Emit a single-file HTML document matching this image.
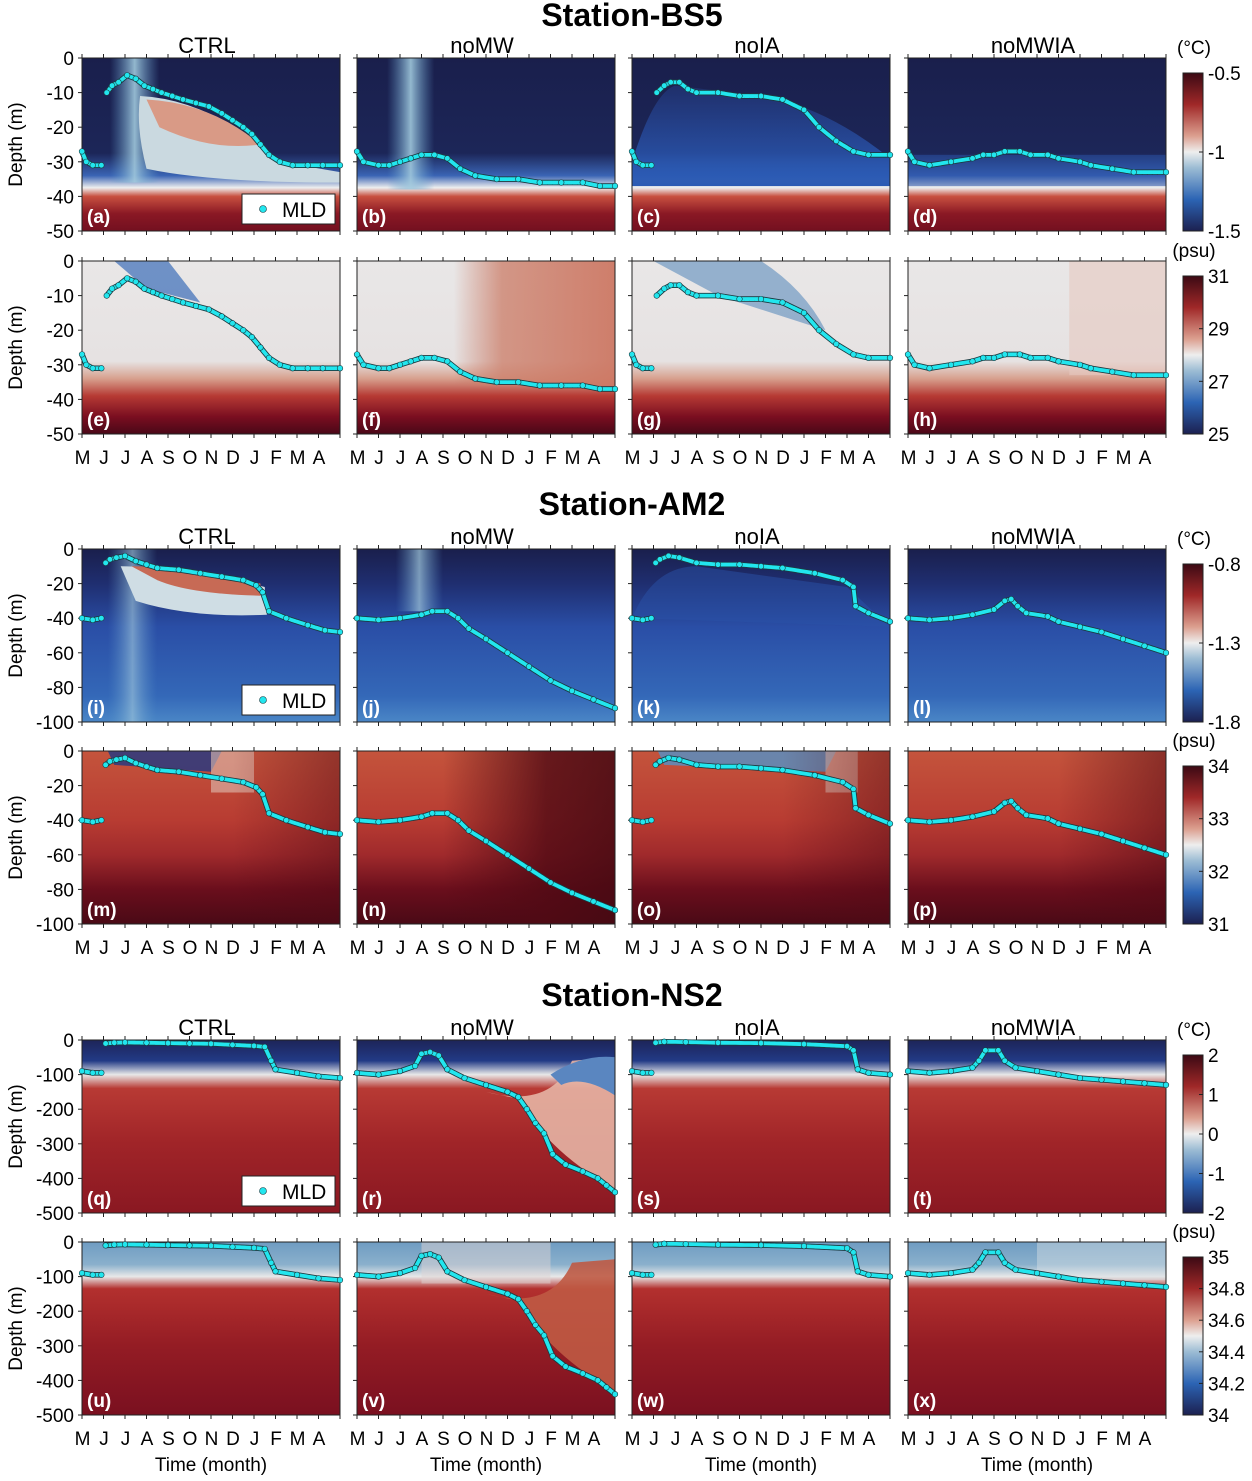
<!DOCTYPE html>
<html><head><meta charset="utf-8"><style>
body{margin:0;background:#fff}
svg text{font-family:"Liberation Sans",sans-serif}
</style></head><body>
<svg id="fig" xmlns="http://www.w3.org/2000/svg" width="1252" height="1476" viewBox="0 0 1252 1476">
<defs id="defs"></defs>
</svg>
<script>
// ---- data ----
const months = ["M","J","J","A","S","O","N","D","J","F","M","A"];
const experiments = ["CTRL","noMW","noIA","noMWIA"];
const stations = ["Station-BS5","Station-AM2","Station-NS2"];
const depthMax = [50,100,500];
const depthTicks = [[0,10,20,30,40,50],[0,20,40,60,80,100],[0,100,200,300,400,500]];
const panelLetters = "abcdefghijklmnopqrstuvwx".split("");
const tempCbTicks = [["-0.5","-1","-1.5"],["-0.8","-1.3","-1.8"],["2","1","0","-1","-2"]];
const salCbTicks = [["31","29","27","25"],["34","33","32","31"],["35","34.8","34.6","34.4","34.2","34"]];
// MLD: time (months since May 1) and depth (m); null breaks
const mldT_BS5 = [
 [0,0.2,0.5,0.9,null,1.15,1.4,1.7,2.1,2.5,2.9,3.3,3.7,4.2,4.7,5.3,5.9,6.5,7.0,7.5,7.9,8.3,8.7,9.2,9.8,10.5,11.2,12],
 [0,0.3,1,1.5,2,2.5,3,3.6,4.2,4.8,5.5,6.5,7.5,8.5,9.5,10.5,11.3,12],
 [0,0.2,0.5,0.9,null,1.15,1.5,1.8,2.2,2.6,3,4,5,6,7,8,8.7,9.5,10.3,11,12],
 [0,0.3,1,2,3,3.5,4,4.5,5.2,5.7,6.5,7,8,8.5,9.5,10.5,12]];
const mldD_BS5 = [
 [27,30,31,31,null,10,8,7,5,6,8,9,10,11,12,13,14,16,18,20,22,25,28,30,31,31,31,31],
 [27,30,31,31,30,29,28,28,29,32,34,35,35,36,36,36,37,37],
 [27,30,31,31,null,10,8,7,7,9,10,10,11,11,12,15,20,24,27,28,28],
 [27,30,31,30,29,28,28,27,27,28,28,29,30,31,32,33,33]];
const mldT_AM2 = [
 [0,0.5,0.9,null,1.1,1.3,1.6,2,2.5,3,3.5,4.5,5.5,6.5,7.5,8.1,8.4,8.7,9.5,10.5,11.3,12],
 [0,1,2,3,3.5,4.2,4.7,5.2,6,7,8,9,10,11,12],
 [0,0.5,0.9,null,1.1,1.3,1.7,2.2,3,4,5,6,7,8.5,9.8,10.3,10.4,11,12],
 [0,1,2,3,4,4.5,4.8,5.1,5.5,6.5,7,8,9,10,11,12]];
const mldD_AM2 = [
 [40,41,40,null,8,6,5,4,7,9,11,12,14,16,18,21,25,36,40,44,47,48],
 [40,41,40,38,36,36,40,46,52,60,68,76,82,87,92],
 [40,41,40,null,8,6,4,5,8,9,9,10,11,14,18,22,33,37,42],
 [40,41,40,38,35,30,29,33,37,39,42,45,48,52,56,60]];
const mldT_NS2 = [
 [0,0.5,0.9,null,1.1,1.5,2,3,4,5,6,7,8,8.5,8.8,9,10,11,12],
 [0,1,2,2.7,3,3.4,3.8,4.2,5,6,7,7.5,7.9,8.3,8.7,9.1,9.7,10.5,11.2,11.6,12],
 [0,0.5,0.9,null,1.1,1.5,2.5,4,6,8,10,10.3,10.5,11,12],
 [0,1,2,3,3.3,3.6,4.2,4.5,5,6,7,8,9,10,11,12]];
const mldD_NS2 = [
 [90,95,95,null,10,8,7,8,9,10,11,14,17,20,60,85,95,105,110],
 [95,100,90,75,40,35,45,85,110,130,150,165,200,240,270,330,360,380,400,420,440],
 [90,95,95,null,8,5,6,8,9,12,18,30,85,95,100],
 [90,95,90,80,60,30,30,60,80,90,100,110,115,120,125,130]];
const mldT = [mldT_BS5, mldT_AM2, mldT_NS2];
const mldD = [mldD_BS5, mldD_AM2, mldD_NS2];

// ---- layout ----
const NS = "http://www.w3.org/2000/svg";
const svg = document.getElementById("fig");
const defs = document.getElementById("defs");
const colX = [82,357,632,908], PW = 258, PH = 173;
const rowY = [58,261,549,751,1040,1242];
function el(tag, attrs, parent){const e=document.createElementNS(NS,tag);for(const k in attrs)e.setAttribute(k,attrs[k]);(parent||svg).appendChild(e);return e;}
function txt(x,y,s,size,anchor,weight,parent){const t=el("text",{x:x,y:y,"font-size":size,"text-anchor":anchor||"middle","font-weight":weight||"normal",fill:"#000"},parent);t.textContent=s;return t;}
function grad(id,stops,horiz){const g=el("linearGradient",{id:id,x1:0,y1:0,x2:horiz?1:0,y2:horiz?0:1},defs);stops.forEach(s=>el("stop",{offset:s[0],"stop-color":s[1]},g));}

grad("gT0",[[0,"#1a1f4c"],[0.55,"#1c2658"],[0.68,"#3a64b4"],[0.75,"#eeeeee"],[0.8,"#c85040"],[0.9,"#8a1824"],[1,"#731020"]]);
grad("gS0",[[0,"#e9e7e7"],[0.58,"#e6e2e2"],[0.68,"#d7a08e"],[0.78,"#b63a34"],[0.9,"#7a0e20"],[1,"#4a0818"]]);
grad("gT1",[[0,"#1a1f4c"],[0.2,"#1f2e70"],[0.45,"#2a4ea6"],[0.85,"#3468b8"],[1,"#4a86c6"]]);
grad("gS1",[[0,"#c4543c"],[0.4,"#b83c32"],[0.6,"#a02a2c"],[0.8,"#6a0e1c"],[1,"#4a0a16"]]);
grad("gT2",[[0,"#1d2458"],[0.12,"#223a86"],[0.2,"#e8e8e8"],[0.28,"#b83a34"],[0.6,"#a02428"],[1,"#8a1822"]]);
grad("gS2",[[0,"#6f9cc2"],[0.13,"#8ab0cc"],[0.2,"#e8e8e8"],[0.27,"#b3302e"],[0.6,"#941c24"],[1,"#7a1020"]]);
grad("gCb",[[0,"#3c0a14"],[0.2,"#a02828"],[0.4,"#dca090"],[0.5,"#eeeeee"],[0.6,"#9cbcd4"],[0.8,"#2c64b4"],[1,"#1c2050"]]);
grad("gBlueV",[[0,"rgba(90,150,200,0)"],[0.5,"rgba(160,200,220,0.9)"],[1,"rgba(90,150,200,0)"]],true);
grad("gRedR",[[0,"rgba(200,120,100,0)"],[0.3,"rgba(205,130,110,0.8)"],[1,"rgba(205,120,100,0.95)"]],true);
grad("gDarkR",[[0,"rgba(80,10,20,0)"],[0.4,"rgba(80,10,20,0.8)"],[1,"rgba(60,8,16,0.95)"]],true);
grad("gBlueDown",[[0,"rgba(42,80,170,0.3)"],[1,"rgba(42,90,180,1)"]]);

// titles
[[14,0],[503,1],[994,2]].forEach(([y,i])=>{const t=txt(632,y+12,stations[i],32,"middle","bold");});

let pIdx=0;
for(let st=0;st<3;st++){
 for(let v=0;v<2;v++){
  const r=st*2+v, y0=rowY[r], dm=depthMax[st];
  for(let c=0;c<4;c++){
   const x0=colX[c];
   const g=el("g",{});
   
   
   const xs=t=>x0+t/12*PW, ys=d=>y0+d/dm*PH;
   el("rect",{x:x0,y:y0,width:PW,height:PH,fill:"url(#g"+(v?"S":"T")+st+")"},g);
   const clip="cp"+pIdx; const cp=el("clipPath",{id:clip},defs); el("rect",{x:x0,y:y0,width:PW,height:PH},cp);
   const ov=el("g",{"clip-path":"url(#"+clip+")"},g);
   if(st===0&&v===0){
     if(c===0){el("rect",{x:xs(1.3),y:y0,width:xs(3.6)-xs(1.3),height:ys(36)-y0,fill:"url(#gBlueV)"},ov);
       el("path",{d:`M${xs(2.7)},${ys(11)} Q${xs(6)},${ys(12)} ${xs(9.2)},${ys(30)} L${xs(12)},${ys(33)} L${xs(12)},${ys(36)} Q${xs(6)},${ys(36)} ${xs(3)},${ys(32)} Q${xs(2.5)},${ys(20)} ${xs(2.7)},${ys(11)}Z`,fill:"#cad9e0"},ov);
       el("path",{d:`M${xs(3)},${ys(12)} Q${xs(6)},${ys(13)} ${xs(8.3)},${ys(25)} Q${xs(6)},${ys(27)} ${xs(3.6)},${ys(20)}Z`,fill:"#d99a86"},ov);}
     if(c===1){el("rect",{x:xs(1.4),y:y0,width:xs(3.6)-xs(1.4),height:ys(38)-y0,fill:"url(#gBlueV)"},ov);}
     if(c===2){el("path",{d:`M${x0},${ys(30)} Q${xs(1)},${ys(10)} ${xs(2)},${ys(8)} L${xs(6)},${ys(11)} Q${xs(9)},${ys(14)} ${xs(12)},${ys(29)} L${xs(12)},${ys(37)} L${x0},${ys(37)}Z`,fill:"url(#gBlueDown)"},ov);}
     if(c===3){el("rect",{x:x0,y:ys(28),width:PW,height:ys(37)-ys(28),fill:"#2a52a8",opacity:0.5},ov);}
   }
   if(st===0&&v===1){
     if(c===0) el("path",{d:`M${xs(1.5)},${y0} L${xs(4)},${y0} Q${xs(5)},${ys(8)} ${xs(5.5)},${ys(12)} L${xs(3)},${ys(8)} Z`,fill:"#3a6cb8",opacity:0.7},ov);
     if(c===1) el("rect",{x:xs(4.5),y:y0,width:PW-xs(4.5)+x0,height:ys(36)-y0,fill:"url(#gRedR)"},ov);
     if(c===2) el("path",{d:`M${xs(1)},${y0} L${xs(6)},${y0} Q${xs(8)},${ys(8)} ${xs(9)},${ys(20)} L${xs(4)},${ys(10)} Z`,fill:"#5c8cbc",opacity:0.6},ov);
     if(c===3) el("rect",{x:xs(7.5),y:y0,width:PW-xs(7.5)+x0,height:ys(33)-y0,fill:"#e6c8c0",opacity:0.6},ov);
   }
   if(st===1&&v===0){
     if(c===0){el("rect",{x:xs(1.2),y:y0,width:xs(3.5)-xs(1.2),height:PH,fill:"url(#gBlueV)",opacity:0.7},ov);
       el("path",{d:`M${xs(1.8)},${ys(10)} Q${xs(5)},${ys(10)} ${xs(8.5)},${ys(22)} L${xs(8.6)},${ys(38)} Q${xs(5)},${ys(40)} ${xs(2.5)},${ys(30)}Z`,fill:"#cfdde4"},ov);
       el("path",{d:`M${xs(2.3)},${ys(10)} Q${xs(5)},${ys(10)} ${xs(8.3)},${ys(20)} L${xs(8.3)},${ys(27)} Q${xs(5)},${ys(26)} ${xs(3.5)},${ys(18)}Z`,fill:"#c76a55"},ov);}
     if(c===1) el("rect",{x:xs(1.8),y:y0,width:xs(4)-xs(1.8),height:ys(36)-y0,fill:"url(#gBlueV)",opacity:0.8},ov);
     if(c===2) el("path",{d:`M${x0},${ys(40)} Q${xs(1)},${ys(10)} ${xs(3)},${ys(10)} L${xs(10)},${ys(22)} L${xs(12)},${ys(45)}Z`,fill:"#2a52a8",opacity:0.5},ov);
   }
   if(st===1&&v===1){
     if(c===0||c===2){el("path",{d:`M${xs(1.2)},${y0} L${xs(c?9.5:6.5)},${y0} L${xs(c?9:6)},${ys(12)} L${xs(1.5)},${ys(8)}Z`,fill:c?"#5a8ec0":"#2a3a80",opacity:0.85},ov);
       el("rect",{x:xs(c?9:6),y:y0,width:xs(c?10.5:8)-xs(c?9:6),height:ys(24)-y0,fill:"#e0c0b4",opacity:0.6},ov);}
     el("rect",{x:xs(c===1?4:7),y:y0,width:PW,height:PH,fill:"url(#gDarkR)",opacity:c===1?1:(c===3?0.6:0.5)},ov);
   }
   if(st===2&&c===1){
     el("path",{d:`M${xs(6)},${ys(150)} Q${xs(9)},${ys(200)} ${xs(10)},${ys(60)} L${xs(12)},${ys(50)} L${xs(12)},${ys(430)} Q${xs(9)},${ys(330)} ${xs(7.5)},${ys(170)}Z`,fill:v?"#bf5a44":"#e6b4a4",opacity:0.9},ov);
     if(!v) el("path",{d:`M${xs(9)},${ys(100)} Q${xs(10.5)},${ys(40)} ${xs(12)},${ys(50)} L${xs(12)},${ys(160)} Q${xs(10.5)},${ys(100)} ${xs(9.5)},${ys(130)}Z`,fill:"#5a86c0"},ov);
     if(v) el("rect",{x:xs(3),y:y0,width:xs(9)-xs(3),height:ys(120)-y0,fill:"#ddd4d4",opacity:0.5},ov);
   }
   if(st===2&&v===1&&c===3) el("rect",{x:xs(6),y:y0,width:PW,height:ys(110)-y0,fill:"#d8dfe4",opacity:0.45},ov);
   el("rect",{x:x0,y:y0,width:PW,height:PH,fill:"none",stroke:"#222","stroke-width":1},g);
   for(let m=0;m<=12;m++){const x=xs(m);
     el("line",{x1:x,y1:y0,x2:x,y2:y0-4,stroke:"#222"},g);
     el("line",{x1:x,y1:y0+PH,x2:x,y2:y0+PH+4,stroke:"#222"},g);}
   if(v===1) months.forEach((m,i)=>{txt(xs(i)+0.5,y0+PH+30,m,19,"middle","normal",g);});
   if(v===1&&st===2){const t=txt(x0+PW/2,1471,"Time (month)",19,"middle","normal",g);}
   depthTicks[st].forEach(d=>{el("line",{x1:x0,y1:ys(d),x2:x0-4,y2:ys(d),stroke:"#222"},g);
     if(c===0) txt(x0-8,ys(d)+7,d===0?"0":"-"+d,19,"end","normal",g);});
   if(c===0){const t=el("text",{x:0,y:0,"font-size":19,"text-anchor":"middle",transform:`translate(${22},${y0+PH/2}) rotate(-90)`},g);t.textContent="Depth (m)";
     }
   if(v===0) txt(x0+PW/2-4,y0-5,experiments[c],22,"middle","normal",g);
   const lt=txt(x0+5,y0+PH-8,"("+panelLetters[pIdx]+")",19,"start","bold",g); lt.setAttribute("fill","#fff");
   const T=mldT[st][c], D=mldD[st][c];
   let seg=[];const segs=[];
   T.forEach((t,i)=>{if(t===null){segs.push(seg);seg=[];}else seg.push([xs(t),ys(D[i])]);});segs.push(seg);
   segs.forEach(s=>{if(s.length>1){el("polyline",{points:s.map(p=>p.join(",")).join(" "),fill:"none",stroke:"#1a3a40","stroke-width":5.5,"stroke-linejoin":"round","stroke-linecap":"round"},g);
     const pl2=el("polyline",{points:s.map(p=>p.join(",")).join(" "),fill:"none",stroke:"#22e6ee","stroke-width":3.8,"stroke-linejoin":"round","stroke-linecap":"round","stroke-dasharray":"4 1"},g);
     }
     s.forEach(p=>{const dt=el("circle",{cx:p[0],cy:p[1],r:2.8,fill:"#22e6ee",stroke:"#1a3a40","stroke-width":0.6},g);
       });});
   if(c===0&&v===0){const lg=el("g",{},g);
     el("rect",{x:x0+160,y:y0+PH-37,width:93,height:30,fill:"#fff",stroke:"#222"},lg);
     el("circle",{cx:x0+181,cy:y0+PH-22,r:3.5,fill:"#22e6ee",stroke:"#1a3a40","stroke-width":0.6},lg);
     txt(x0+200,y0+PH-14,"MLD",21,"start","normal",lg);}
   pIdx++;
  }
  const cb=el("g",{});
  const cy0=y0+15, ch=PH-15;
  el("rect",{x:1183,y:cy0,width:20,height:ch,fill:"url(#gCb)",stroke:"#222"},cb);
  const tk=v?salCbTicks[st]:tempCbTicks[st];
  tk.forEach((s,i)=>{const yy=cy0+i/(tk.length-1)*ch;
    el("line",{x1:1203,y1:yy,x2:1199,y2:yy,stroke:"#222"},cb);
    txt(1208,yy+7,s,19,"start","normal",cb);});
  txt(1194,y0-4,v?"(psu)":"(°C)",19,"middle","normal",cb);
 }
}
</script>
</body></html>
